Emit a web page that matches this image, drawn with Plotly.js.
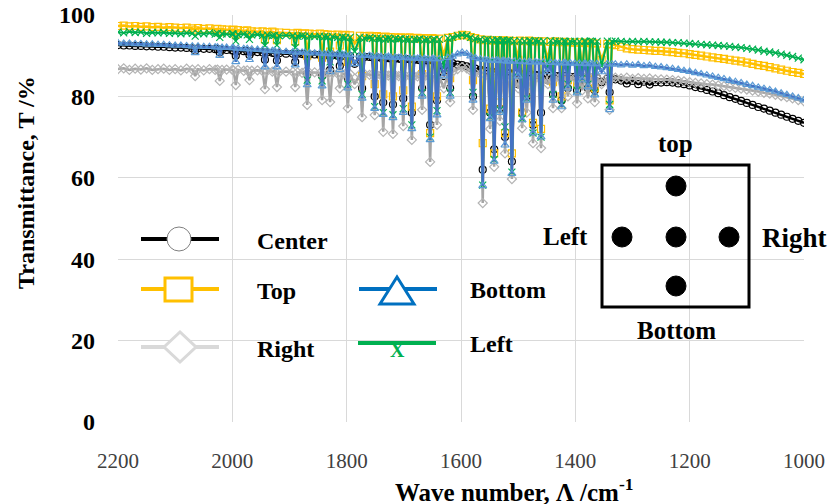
<!DOCTYPE html>
<html>
<head>
<meta charset="utf-8">
<script src="https://cdn.plot.ly/plotly-3.0.1.min.js"></script>
<style>
html,body{margin:0;padding:0;background:#fff;}
#chart{width:831px;height:504px;}
</style>
</head>
<body>
<div id="chart"></div>
<script>
// ---- data ----
const wavenumber = [
 2200,2190,2180,2170,2160,2150,2140,2130,2120,2110,
 2100,2090,2080,2070,2065,2060,2050,2040,2030,2026,
 2022,2018,2010,2000,1998,1994,1990,1980,1974,1970,
 1966,1956,1947,1943,1939,1930,1926,1922,1918,1906,
 1894,1890,1886,1878,1873,1869,1865,1856,1847,1843,
 1839,1833,1829,1825,1816,1812,1808,1802,1798,1794,
 1786,1777,1773,1769,1760,1755,1751,1747,1740,1736,
 1732,1727,1723,1719,1715,1709,1705,1701,1697,1690,
 1686,1682,1676,1672,1668,1664,1658,1654,1650,1646,
 1642,1638,1630,1623,1619,1615,1606,1598,1590,1583,
 1579,1575,1566,1562,1558,1553,1549,1545,1542,1538,
 1535,1532,1528,1525,1523,1519,1515,1511,1507,1500,
 1497,1493,1489,1485,1481,1478,1474,1470,1464,1460,
 1456,1448,1443,1439,1435,1428,1424,1420,1417,1413,
 1409,1401,1397,1393,1388,1384,1382,1378,1374,1370,
 1366,1362,1354,1344,1340,1336,1330,1320,1310,1300,
 1290,1280,1270,1260,1250,1240,1230,1220,1210,1200,
 1190,1180,1170,1160,1150,1140,1130,1120,1110,1100,
 1090,1080,1070,1060,1050,1040,1030,1020,1010,1000
];

const tCenter = [
 92.6,92.5,92.5,92.4,92.4,92.3,92.3,92.2,92.2,92.1,
 92.0,92.0,91.9,91.8,91.2,91.8,91.7,91.7,91.6,91.6,
 90.8,91.5,91.4,91.3,91.3,90.0,91.2,91.1,91.1,90.2,
 91.0,90.9,90.8,89.0,90.8,90.7,90.6,88.8,90.6,90.5,
 90.5,88.5,90.5,90.4,90.4,85.5,90.3,90.3,90.2,85.0,
 90.2,90.1,86.5,90.1,90.0,87.5,90.0,89.9,84.5,89.9,
 88.0,89.8,82.0,89.7,89.7,89.6,80.0,89.6,89.5,78.5,
 89.5,89.4,89.4,78.0,89.3,89.3,89.2,79.5,89.2,89.1,
 76.0,89.0,89.0,88.9,82.0,88.9,88.8,73.0,88.8,88.7,
 79.0,88.6,85.0,88.4,82.0,88.2,87.8,87.7,87.4,87.0,
 80.0,86.8,86.5,62.0,86.3,86.2,76.0,86.0,67.0,86.0,
 85.9,77.0,85.8,85.8,70.0,85.7,85.7,64.0,85.6,83.0,
 85.5,76.0,85.5,80.0,85.4,85.4,73.0,85.3,85.2,76.0,
 85.2,84.0,85.1,80.5,85.0,85.0,79.0,84.9,84.9,82.0,
 84.8,84.8,81.5,84.7,83.0,84.7,84.6,82.0,84.6,84.5,
 81.5,84.5,83.5,84.4,81.0,84.3,84.2,83.9,83.2,83.8,
 83.0,83.6,82.9,83.5,83.4,83.5,83.4,83.2,83.0,82.7,
 82.3,82.0,81.6,81.2,80.8,80.3,79.8,79.4,78.9,78.4,
 77.9,77.4,77.0,76.5,76.0,75.5,75.0,74.5,74.0,73.5
];

const tTop = [
 97.3,97.4,97.2,97.3,97.1,97.2,97.0,97.1,96.9,97.0,
 96.9,96.8,96.9,96.7,96.2,96.8,96.6,96.7,96.5,96.6,
 95.8,96.5,96.4,96.3,96.4,95.2,96.3,96.1,96.2,95.4,
 96.0,95.9,96.0,94.0,95.8,95.9,95.7,93.8,95.7,95.6,
 95.5,93.5,95.6,95.4,95.5,90.0,95.4,95.3,95.4,89.5,
 95.3,95.2,91.0,95.1,95.2,92.5,95.0,95.1,88.5,95.0,
 93.0,94.9,85.0,94.8,94.9,94.7,83.0,94.8,94.6,80.5,
 94.7,94.5,94.6,80.0,94.5,94.4,94.5,81.5,94.4,94.5,
 77.5,94.3,94.4,94.2,85.5,94.3,94.2,71.0,94.3,94.1,
 80.0,94.2,90.0,94.4,84.5,94.6,94.9,95.1,95.0,94.6,
 84.0,94.3,94.0,68.5,93.8,93.9,77.0,93.7,66.0,93.8,
 93.8,78.5,93.7,93.8,71.0,93.6,93.7,66.0,93.6,89.0,
 93.7,76.0,93.6,81.0,93.7,93.5,73.5,93.6,93.5,72.0,
 93.5,89.0,93.4,83.5,93.5,93.3,80.0,93.4,93.3,84.0,
 93.3,93.2,83.0,93.3,86.0,93.2,93.1,84.5,93.2,93.1,
 82.0,93.0,89.0,92.9,79.0,92.8,92.6,92.2,91.8,91.6,
 91.5,91.4,91.3,91.2,91.2,91.0,90.9,90.7,90.6,90.4,
 90.2,90.0,89.8,89.6,89.4,89.2,89.0,88.8,88.6,88.3,
 88.0,87.7,87.5,87.2,86.9,86.6,86.3,86.0,85.8,85.5
];

const tRight = [
 86.7,86.9,86.5,86.8,86.6,86.9,86.5,86.7,86.8,86.5,
 86.7,86.4,86.8,86.6,85.0,86.7,86.4,86.7,86.5,86.6,
 83.8,86.5,86.6,86.5,86.4,82.8,86.5,86.3,86.4,84.0,
 86.3,86.4,86.2,81.8,86.3,86.1,86.2,82.3,86.0,86.1,
 86.0,82.3,85.9,85.8,86.0,77.9,85.8,85.9,85.7,79.1,
 85.8,85.6,78.6,85.7,85.6,82.0,85.5,85.6,77.1,85.5,
 83.0,85.4,74.9,85.5,85.3,85.4,75.4,85.3,85.2,71.3,
 85.3,85.1,85.2,70.8,85.2,85.0,85.1,72.7,85.0,85.1,
 69.3,85.0,84.9,85.1,76.7,84.9,85.0,63.9,85.0,84.9,
 73.0,85.0,82.0,85.6,78.6,86.0,86.7,87.2,86.9,86.2,
 76.7,85.8,85.5,53.8,85.2,85.1,72.0,85.0,62.7,85.0,
 84.9,74.0,84.8,84.9,66.0,84.8,84.9,59.7,84.8,82.0,
 84.8,72.2,84.7,76.0,84.7,84.6,68.5,84.7,84.6,67.3,
 84.6,83.0,84.6,77.1,84.7,84.5,77.1,84.6,84.5,80.0,
 84.6,84.5,78.3,84.6,81.5,84.5,84.5,79.5,84.6,84.5,
 78.6,84.5,83.0,84.6,76.7,84.5,84.6,84.4,84.6,84.3,
 84.5,84.3,84.4,84.2,84.2,84.1,84.0,83.9,83.7,83.5,
 83.3,83.2,83.0,82.9,82.7,82.5,82.3,82.1,81.9,81.7,
 81.4,81.2,80.9,80.7,80.4,80.1,79.8,79.5,79.1,78.8
];

const tBottom = [
 93.1,93.0,93.0,92.9,92.9,92.8,92.8,92.7,92.7,92.6,
 92.5,92.5,92.4,92.3,90.7,92.3,92.2,92.2,92.1,92.1,
 90.0,92.0,92.0,91.9,91.9,88.5,91.8,91.7,91.7,89.0,
 91.6,91.5,91.4,87.2,91.3,91.2,91.2,87.2,91.1,91.0,
 90.9,87.7,90.9,90.8,90.8,82.8,90.7,90.6,90.6,82.5,
 90.5,90.5,86.0,90.4,90.4,86.5,90.3,90.3,82.0,90.2,
 88.0,90.1,79.5,90.0,90.0,89.9,77.0,89.9,89.8,75.5,
 89.7,89.8,89.6,74.7,89.6,89.5,89.6,76.0,89.5,89.4,
 72.0,89.4,89.3,89.4,80.0,89.3,89.2,69.3,89.3,89.2,
 75.4,89.2,85.0,89.5,80.0,89.8,90.4,90.8,90.5,89.9,
 79.0,89.5,89.2,58.0,89.0,88.9,74.5,88.8,64.0,88.9,
 88.8,76.0,88.7,88.8,68.0,88.6,88.7,61.0,88.6,85.0,
 88.6,74.2,88.5,79.0,88.5,88.4,71.0,88.5,88.4,70.0,
 88.4,86.0,88.3,79.0,88.3,88.2,77.4,88.3,88.2,82.0,
 88.2,88.1,80.8,88.1,84.0,88.1,88.0,82.3,88.1,88.0,
 80.3,88.0,86.0,88.0,76.7,87.9,87.9,87.7,87.9,87.6,
 87.8,87.5,87.6,87.3,87.2,87.0,86.8,86.6,86.3,86.1,
 85.8,85.5,85.2,84.9,84.6,84.3,83.9,83.6,83.3,82.9,
 82.6,82.2,81.9,81.6,81.2,80.8,80.4,80.0,79.6,79.1
];

const tLeft = [
 95.8,95.6,95.9,95.7,95.8,95.5,95.7,95.6,95.7,95.5,
 95.6,95.4,95.6,95.5,94.8,95.5,95.4,95.6,95.3,95.5,
 94.5,95.4,95.3,95.4,95.3,93.6,95.2,95.3,95.1,94.0,
 95.1,95.2,95.0,92.5,95.1,94.9,95.0,92.6,94.9,95.0,
 94.9,92.0,94.8,94.9,94.8,84.0,94.8,94.7,94.8,83.8,
 94.7,94.6,88.5,94.7,94.5,90.0,94.6,94.4,83.0,94.5,
 91.0,94.5,80.5,94.3,94.4,94.2,77.5,94.3,94.2,76.0,
 94.1,94.3,94.1,75.5,94.2,94.0,94.2,77.0,94.1,94.0,
 73.0,94.0,93.9,94.1,81.0,93.9,94.0,70.0,93.9,94.0,
 76.5,94.0,87.0,94.3,81.0,94.5,94.9,95.1,94.9,94.5,
 81.0,94.2,94.0,58.2,93.9,94.0,75.0,93.8,64.5,93.9,
 93.8,76.7,93.7,93.8,72.5,93.7,93.8,61.4,93.6,86.0,
 93.7,74.5,93.6,79.5,93.7,93.6,71.0,93.7,93.6,70.0,
 93.6,87.0,93.7,80.5,93.6,93.5,78.0,93.6,93.5,83.0,
 93.5,93.6,81.5,93.5,84.5,93.6,93.5,83.0,93.6,93.5,
 81.0,93.5,87.5,93.6,78.0,93.5,93.6,93.5,93.4,93.5,
 93.4,93.5,93.4,93.4,93.3,93.3,93.2,93.2,93.1,93.0,
 92.9,92.8,92.7,92.6,92.5,92.4,92.3,92.1,92.0,91.8,
 91.6,91.4,91.1,90.9,90.7,90.4,90.1,89.8,89.4,89.0
];

const seriesNames = ['Center', 'Top', 'Right', 'Bottom', 'Left'];
const xTicks = [2200, 2000, 1800, 1600, 1400, 1200, 1000];
const yTicks = [0, 20, 40, 60, 80, 100];
const positionLabels = ['top', 'Left', 'Right', 'Bottom'];

[tCenter, tTop, tRight, tBottom, tLeft].forEach((s, i) => {
  if (s.length !== wavenumber.length) throw new Error('length mismatch in ' + seriesNames[i]);
});

// ---- styles ----
const FONT = 'Liberation Serif';

function spectrum(name, y, lineColor, markerColor, symbol, lw) {
  return {
    type: 'scatter', mode: 'lines+markers', name: name,
    x: wavenumber, y: y, showlegend: false,
    line: {color: lineColor, width: lw},
    marker: {symbol: symbol, size: 7, color: markerColor,
             line: {color: markerColor, width: 1.2}}
  };
}

// Bottom drawn last so its spike lines sit on top, as in the reference
const data = [
  spectrum(seriesNames[0], tCenter, '#000000', '#000000', 'circle-open', 2.5),
  spectrum(seriesNames[1], tTop,    '#FFC000', '#FFC000', 'square-open', 2.5),
  spectrum(seriesNames[2], tRight,  '#A5A5A5', '#B4B4B4', 'diamond-open', 2.5),
  spectrum(seriesNames[4], tLeft,   '#00B050', '#00B050', 'x-thin', 2),
  spectrum(seriesNames[3], tBottom, '#4472C4', '#5B9BD5', 'triangle-up-open', 2.5)
];

// pixel -> paper helpers (plot area 118..804 x 15..422)
const PL = 118, PR = 804, PT = 15, PB = 422;
const px = x => (x - PL) / (PR - PL);
const py = y => (PB - y) / (PB - PT);

const shapes = [];
const annotations = [];

function hline(x0, x1, y, color) {
  shapes.push({type: 'line', xref: 'paper', yref: 'paper', x0: px(x0), x1: px(x1), y0: py(y), y1: py(y),
               line: {color: color, width: 4}});
}
function label(text, x, y, size, anchor, color) {
  annotations.push({text: '<b>' + text + '</b>', xref: 'paper', yref: 'paper', x: px(x), y: py(y),
    xanchor: anchor || 'center', yanchor: 'middle', showarrow: false,
    font: {family: FONT, size: size, color: color || '#000'}});
}
function pathOf(pts) {
  return 'M' + pts.map(p => px(p[0]) + ',' + py(p[1])).join('L') + 'Z';
}

// legend glyphs
hline(141, 219, 239, '#000000');
shapes.push({type: 'circle', xref: 'paper', yref: 'paper', x0: px(167), x1: px(191), y0: py(251), y1: py(227),
             fillcolor: '#ffffff', line: {color: '#7F7F7F', width: 1}});
hline(141, 219, 289, '#FFC000');
shapes.push({type: 'rect', xref: 'paper', yref: 'paper', x0: px(165), x1: px(192), y0: py(301), y1: py(278),
             fillcolor: '#ffffff', line: {color: '#FFC000', width: 3}});
hline(141, 219, 347, '#D9D9D9');
shapes.push({type: 'path', xref: 'paper', yref: 'paper',
             path: pathOf([[164, 347], [180, 332], [196, 347], [180, 362]]),
             fillcolor: '#ffffff', line: {color: '#D9D9D9', width: 3}});
hline(359, 437, 289, '#0070C0');
shapes.push({type: 'path', xref: 'paper', yref: 'paper',
             path: pathOf([[397, 277], [414, 304], [380, 304]]),
             fillcolor: '#ffffff', line: {color: '#0070C0', width: 3}});
hline(358, 436, 343, '#00B050');
annotations.push({text: '<b>X</b>', xref: 'paper', yref: 'paper', x: px(397), y: py(350), xanchor: 'center', yanchor: 'middle',
                  showarrow: false, font: {family: FONT, size: 20, color: '#00B050'}});

label(seriesNames[0], 255, 241, 24, 'left');
label(seriesNames[1], 255, 291, 24, 'left');
label(seriesNames[2], 255, 349, 24, 'left');
label(seriesNames[3], 468, 290, 24, 'left');
label(seriesNames[4], 468, 344, 24, 'left');

// inset: measuring positions on the sample
shapes.push({type: 'rect', xref: 'paper', yref: 'paper', x0: px(602), x1: px(749), y0: py(307), y1: py(165),
             line: {color: '#000', width: 3}, fillcolor: 'rgba(0,0,0,0)'});
[[676, 186], [622, 237], [676, 237], [729, 237], [676, 286]].forEach(c => {
  shapes.push({type: 'circle', xref: 'paper', yref: 'paper', x0: px(c[0] - 10), x1: px(c[0] + 10),
               y0: py(c[1] + 10), y1: py(c[1] - 10), fillcolor: '#000', line: {color: '#000', width: 1}});
});
label(positionLabels[0], 675, 143, 25);
label(positionLabels[1], 565, 237, 25);
label(positionLabels[2], 794, 238, 27);
label(positionLabels[3], 676, 330, 25);

// axis titles
label('Wave number, Λ /cm<sup>-1</sup>', 514, 490, 25);
annotations.push({text: '<b>Transmittance, T /%</b>', xref: 'paper', yref: 'paper', x: px(26), y: py(183),
                  xanchor: 'center', yanchor: 'middle', textangle: -90, showarrow: false,
                  font: {family: FONT, size: 24, color: '#000'}});

const layout = {
  width: 831, height: 504,
  margin: {l: PL, r: 831 - PR, t: PT, b: 504 - PB, pad: 0},
  paper_bgcolor: '#ffffff', plot_bgcolor: '#ffffff',
  showlegend: false,
  font: {family: FONT},
  xaxis: {
    range: [2200, 1000], tickvals: xTicks, ticktext: xTicks.map(String),
    showgrid: true, gridcolor: '#D9D9D9', gridwidth: 1, zeroline: false, showline: false,
    ticks: '', ticklabelstandoff: 24,
    tickfont: {family: FONT, size: 21, color: '#404040'}
  },
  yaxis: {
    range: [0, 100], tickvals: yTicks, ticktext: yTicks.map(String),
    showgrid: true, gridcolor: '#D9D9D9', gridwidth: 1, zeroline: false, showline: false,
    ticks: '', ticklabelstandoff: 22,
    tickfont: {family: FONT, size: 24, weight: 'bold', color: '#000'}
  },
  shapes: shapes,
  annotations: annotations
};

Plotly.newPlot('chart', data, layout, {displayModeBar: false, staticPlot: true});
</script>
</body>
</html>
